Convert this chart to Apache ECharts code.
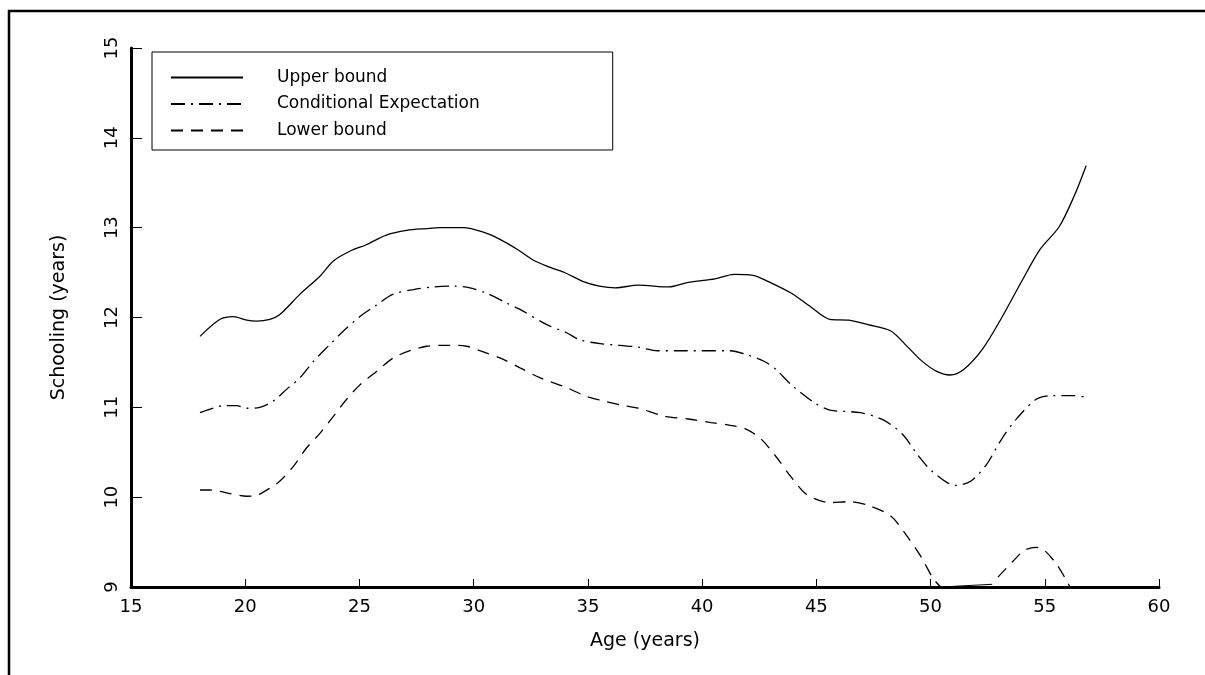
<!DOCTYPE html>
<html>
<head>
<meta charset="utf-8">
<script src="https://cdn.jsdelivr.net/npm/echarts@6/dist/echarts.min.js"></script>
<style>
html,body{margin:0;padding:0;background:#fff;}
#chart{width:1205px;height:675px;}
</style>
</head>
<body>
<div id="chart"></div>
<script>
// Age (years) and Schooling (years)
const upperAge = [18.02,18.9,19.48,20.07,20.5,21.08,21.5,22.4,23.27,23.86,24.6,25.3,26.2,27.06,27.93,28.52,29.55,30.42,31.15,31.9,32.6,33.33,34.07,34.8,35.5,36.2,37.21,38.55,39.39,40.56,41.4,42.23,42.9,43.91,44.75,45.59,46.42,47.26,48.26,48.93,49.6,50.27,50.86,51.45,52.28,53.12,53.96,54.8,55.63,56.3,56.81];
const upperVal = [11.79,11.98,12.01,11.97,11.96,11.98,12.03,12.26,12.46,12.63,12.74,12.81,12.92,12.97,12.99,13.0,13.0,12.95,12.87,12.76,12.64,12.56,12.49,12.4,12.35,12.33,12.36,12.34,12.39,12.43,12.48,12.47,12.4,12.27,12.12,11.98,11.97,11.92,11.85,11.69,11.52,11.4,11.36,11.42,11.65,12.0,12.39,12.76,13.01,13.36,13.69];

const condAge = [18.02,18.6,19.04,19.62,20.06,20.64,21.23,21.81,22.4,22.98,23.71,24.3,25.02,25.75,26.48,27.36,28.23,29.11,29.84,30.57,31.45,32.03,33.2,34.07,34.66,35.53,37.21,38.05,38.88,41.23,41.9,42.73,43.24,43.91,44.92,45.59,46.93,47.93,48.77,49.44,50.1,51.1,51.77,52.44,53.12,53.79,54.63,55.3,56.3,56.7];
const condVal = [10.94,10.99,11.02,11.02,10.99,11.0,11.07,11.2,11.33,11.51,11.7,11.85,12.01,12.14,12.26,12.31,12.34,12.35,12.33,12.27,12.16,12.09,11.92,11.83,11.75,11.71,11.67,11.63,11.63,11.63,11.59,11.51,11.42,11.25,11.05,10.97,10.94,10.86,10.7,10.47,10.28,10.13,10.18,10.36,10.65,10.88,11.09,11.13,11.13,11.12];

const lowerAge = [18.02,18.46,19.34,20.07,20.5,21.08,21.52,22.1,22.69,23.27,23.86,24.44,25.02,25.75,26.48,27.21,27.94,28.96,29.69,30.27,31.15,32.03,32.9,34.07,34.94,35.53,36.37,37.21,38.38,39.39,40.39,41.23,41.9,42.57,43.24,43.91,44.58,45.59,46.42,47.26,48.26,48.93,49.6,50.1,50.44,null,52.95,53.62,54.12,54.63,54.97,55.47,55.89,56.1];
const lowerVal = [10.08,10.08,10.04,10.01,10.02,10.1,10.18,10.34,10.55,10.71,10.9,11.09,11.25,11.4,11.55,11.63,11.68,11.69,11.68,11.63,11.55,11.44,11.33,11.22,11.12,11.08,11.03,10.99,10.9,10.87,10.83,10.8,10.76,10.65,10.45,10.22,10.03,9.94,9.95,9.91,9.79,9.58,9.33,9.1,9.0,null,9.11,9.29,9.41,9.44,9.41,9.27,9.1,9.0];

// short solid connector drawn along the axis in the reference
const linkAge = [50.44,52.7];
const linkVal = [9.0,9.03];

const xTicks = [15,20,25,30,35,40,45,50,55,60];
const yTicks = [9,10,11,12,13,14,15];

const seriesNames = ['Upper bound','Conditional Expectation','Lower bound'];

function pairs(xs, ys){
  return xs.map((x,i)=> (x===null ? [null,null] : [x, ys[i]]));
}

const FONT = 'DejaVu Sans';
const chart = echarts.init(document.getElementById('chart'), null, {renderer:'canvas'});

chart.setOption({
  backgroundColor:'#ffffff',
  animation:false,
  textStyle:{fontFamily:FONT},
  grid:{left:131, right:46, top:48, bottom:88, containLabel:false},
  graphic:[{
    type:'rect', silent:true,
    shape:{x:9, y:11, width:1400, height:900},
    style:{fill:'none', stroke:'#000', lineWidth:2.5}
  }],
  legend:{
    orient:'vertical', left:152, top:52,
    data:seriesNames,
    itemWidth:72, itemHeight:18, itemGap:9.5,
    padding:[17,133,11,18],
    borderColor:'#000', borderWidth:1,
    backgroundColor:'#fff',
    itemStyle:{color:'rgba(0,0,0,0)', borderColor:'rgba(0,0,0,0)', borderWidth:0},
    textStyle:{fontFamily:FONT, fontSize:17, color:'#000', padding:[0,0,0,29]},
    selectedMode:false
  },
  xAxis:{
    type:'value', min:xTicks[0], max:xTicks[xTicks.length-1], interval:5,
    name:'Age (years)', nameLocation:'middle', nameGap:45,
    nameTextStyle:{fontFamily:FONT, fontSize:19, color:'#000'},
    axisLine:{onZero:false, lineStyle:{color:'#000', width:3}},
    axisTick:{inside:true, length:8, lineStyle:{color:'#000', width:1}},
    axisLabel:{fontFamily:FONT, fontSize:18, color:'#000', margin:11},
    splitLine:{show:false}
  },
  yAxis:{
    type:'value', min:yTicks[0], max:yTicks[yTicks.length-1], interval:1,
    name:'Schooling (years)', nameLocation:'middle', nameGap:62, nameRotate:90,
    nameTextStyle:{fontFamily:FONT, fontSize:19, color:'#000'},
    axisLine:{show:true, onZero:false, lineStyle:{color:'#000', width:3}},
    axisTick:{show:true, inside:true, length:11, lineStyle:{color:'#000', width:1}},
    axisLabel:{fontFamily:FONT, fontSize:18, color:'#000', rotate:90, margin:10},
    splitLine:{show:false}
  },
  series:[
    {name:seriesNames[0], type:'line', data:pairs(upperAge, upperVal), symbol:'none', smooth:0.3,
     lineStyle:{color:'#000', width:1.3, type:'solid'}, itemStyle:{color:'#000'}},
    {name:seriesNames[1], type:'line', data:pairs(condAge, condVal), symbol:'none', smooth:0.3,
     lineStyle:{color:'#000', width:1.3, type:[14,6,2,6]}, itemStyle:{color:'#000'}},
    {name:seriesNames[2], type:'line', data:pairs(lowerAge, lowerVal), symbol:'none', smooth:0.3, connectNulls:false,
     lineStyle:{color:'#000', width:1.3, type:[12,8]}, itemStyle:{color:'#000'}},
    {name:'link', type:'line', data:pairs(linkAge, linkVal), symbol:'none',
     lineStyle:{color:'#000', width:1, type:'solid'}, itemStyle:{color:'#000'}}
  ]
});
</script>
</body>
</html>
